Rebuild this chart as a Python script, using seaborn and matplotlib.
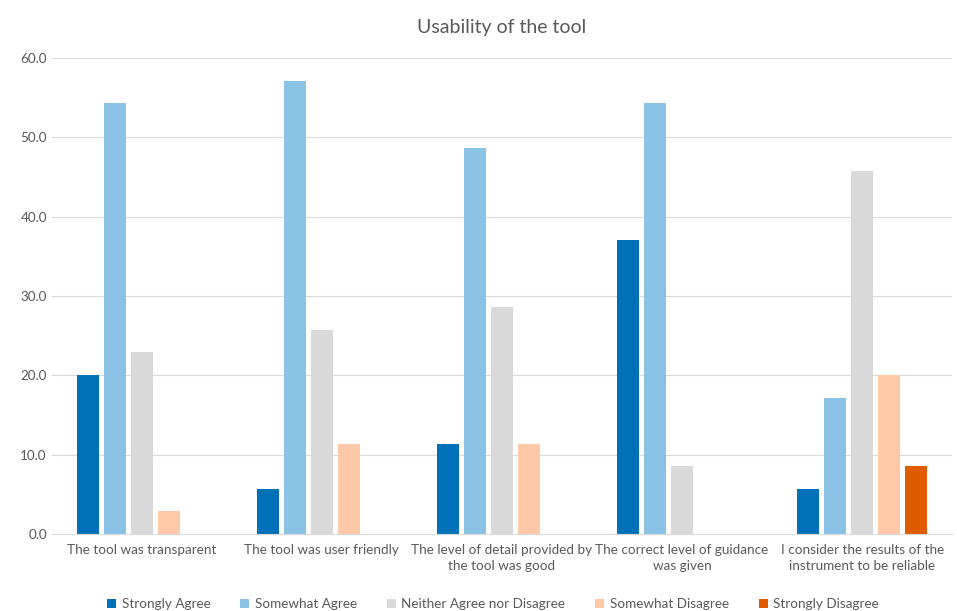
import pandas as pd
import seaborn as sns
import matplotlib.pyplot as plt
from matplotlib.ticker import FormatStrFormatter

# Data (percent of respondents)
statements = [
    "The tool was transparent",
    "The tool was user friendly",
    "The level of detail provided by\nthe tool was good",
    "The correct level of guidance\nwas given",
    "I consider the results of the\ninstrument to be reliable",
]
responses = ["Strongly Agree", "Somewhat Agree", "Neither Agree nor Disagree",
             "Somewhat Disagree", "Strongly Disagree"]
strongly_agree = [20.0, 5.7, 11.4, 37.1, 5.7]
somewhat_agree = [54.3, 57.1, 48.6, 54.3, 17.1]
neither = [22.9, 25.7, 28.6, 8.6, 45.7]
somewhat_disagree = [2.9, 11.4, 11.4, 0.0, 20.0]
strongly_disagree = [0.0, 0.0, 0.0, 0.0, 8.6]

colors = ["#0070B8", "#8BC3E6", "#D9D9D9", "#FFC9A8", "#E05A00"]

series = [strongly_agree, somewhat_agree, neither, somewhat_disagree, strongly_disagree]
rows = []
for resp, vals in zip(responses, series):
    for st, v in zip(statements, vals):
        rows.append({"Statement": st, "Response": resp, "Percent": v})
df = pd.DataFrame(rows)

sns.set_style("white")
plt.rcParams['font.family'] = ['Lato', 'DejaVu Sans']

fig = plt.figure(figsize=(9.57, 6.11), dpi=100)
ax = fig.add_axes([0.054, 0.126, 0.941, 0.779])

sns.barplot(data=df, x="Statement", y="Percent", hue="Response",
            order=statements, hue_order=responses, palette=colors,
            width=0.75, gap=0.18, saturation=1, linewidth=0, ax=ax)

ax.set_ylim(0, 60)
ax.set_xlim(-0.5, 4.5)
ax.set_yticks(range(0, 61, 10))
ax.yaxis.set_major_formatter(FormatStrFormatter("%.1f"))
ax.yaxis.grid(True, color="#D9D9D9", linewidth=0.8)
ax.set_axisbelow(True)
for s in ["top", "right", "left"]:
    ax.spines[s].set_visible(False)
ax.spines["bottom"].set_color("#D9D9D9")
ax.tick_params(axis="both", length=0, colors="#595959", labelsize=9.7)
ax.tick_params(axis="x", pad=7)
for lbl in ax.get_xticklabels():
    lbl.set_linespacing(1.45)
ax.set_xlabel("")
ax.set_ylabel("")

ax.set_title("Usability of the tool", fontsize=14, color="#595959", pad=18)

ax.legend(loc="center", bbox_to_anchor=(0.49, -0.147), ncol=5,
          frameon=False, fontsize=9.7, handlelength=0.7, handleheight=0.7,
          handletextpad=0.4, columnspacing=2.2, labelcolor="#595959")

fig.savefig("out.png", dpi=100)
